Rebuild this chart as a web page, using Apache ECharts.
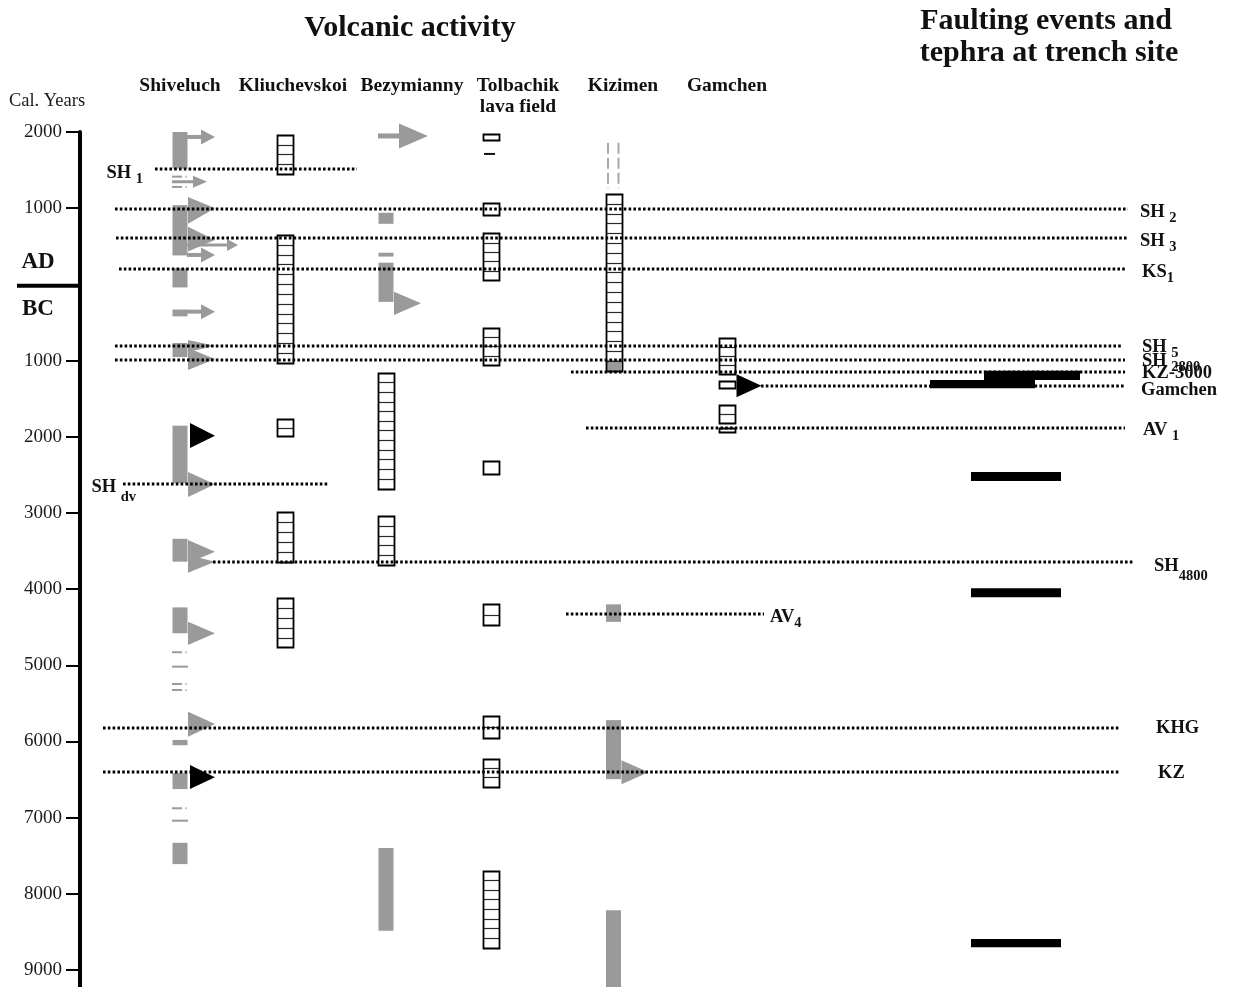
<!DOCTYPE html>
<html><head><meta charset="utf-8">
<script src="https://cdn.jsdelivr.net/npm/echarts@6/dist/echarts.min.js"></script>
<style>html,body{margin:0;padding:0;background:#fff}#c{width:1233px;height:987px}</style>
</head><body><div id="c"></div>
<script>
// Years: negative = AD, positive = BC (cal. years)
const yearTicks = [-2000,-1000,1000,2000,3000,4000,5000,6000,7000,8000,9000];
const volcanoes = ['Shiveluch','Kliuchevskoi','Bezymianny','Tolbachik\nlava field','Kizimen','Gamchen'];

// gray bars: [volcano, fromYear, toYear]
const grayBars = [
  ['Shiveluch',-2000,-1520],['Shiveluch',-1040,-380],['Shiveluch',-210,40],['Shiveluch',330,420],
  ['Shiveluch',770,955],['Shiveluch',1855,2610],['Shiveluch',3340,3640],['Shiveluch',4240,4580],
  ['Shiveluch',5980,6050],['Shiveluch',6415,6625],['Shiveluch',7330,7610],
  ['Bezymianny',-940,-795],['Bezymianny',-415,-365],['Bezymianny',-285,230],['Bezymianny',7400,8485],
  ['Kizimen',990,1135],['Kizimen',4200,4430],['Kizimen',5720,6495],['Kizimen',8215,9223]
];
// hatched boxes: [volcano, fromYear, toYear]
const hatchedBoxes = [
  ['Kliuchevskoi',-1961,-1449],['Kliuchevskoi',-648,1028],['Kliuchevskoi',1771,1999],['Kliuchevskoi',2984,3640],['Kliuchevskoi',4121,4764],
  ['Bezymianny',1159,2677],['Bezymianny',3040,3684],
  ['Tolbachik\nlava field',-1974,-1895],['Tolbachik\nlava field',-1065,-911],['Tolbachik\nlava field',-671,-58],
  ['Tolbachik\nlava field',568,1058],['Tolbachik\nlava field',2318,2493],['Tolbachik\nlava field',4199,4471],
  ['Tolbachik\nlava field',5666,5958],['Tolbachik\nlava field',6230,6594],['Tolbachik\nlava field',7696,8702],
  ['Kizimen',-1187,1133],
  ['Gamchen',708,1180],['Gamchen',1264,1351],['Gamchen',1583,1815],['Gamchen',1889,1947]
];
// short gray tephra dashes (Shiveluch): [year, short(0)/long(1)]
const grayDashes = [[-1414,0],[-1279,0],[4829,0],[5018,1],[5245,0],[5324,0],[6877,0],[7040,1]];
// Tolbachik black dash year
const blackDashes = [-1712];
// Kizimen uncertain (dashed) activity: [from, to]
const uncertain = [[-1860,-1261]];
// line arrows: [volcano, year, kind]
const lineArrows = [
  ['Shiveluch',-1935,'s'],['Shiveluch',-1347,'m'],['Shiveluch',-517,'l'],['Shiveluch',-386,'s'],['Shiveluch',358,'s'],
  ['Bezymianny',-1948,'b']
];
// flag arrowheads: [volcano, topYear, bottomYear, tipYear, black?]
const flags = [
  ['Shiveluch',-1147,-797,-1000,0],['Shiveluch',-757,-430,-583,0],['Shiveluch',729,887,805,0],['Shiveluch',835,1124,979,0],
  ['Shiveluch',1819,2147,1986,1],['Shiveluch',2462,2790,2623,0],['Shiveluch',3357,3659,3509,0],['Shiveluch',3554,3786,3640,0],
  ['Shiveluch',4428,4733,4580,0],['Shiveluch',5609,5937,5771,0],['Shiveluch',6309,6624,6470,1],
  ['Bezymianny',96,402,248,0],['Kizimen',6245,6560,6405,0],['Gamchen',1180,1482,1330,1]
];
// marker horizons: [name, subscript, year]
const horizons = [
  ['SH','1',-1519],['SH','2',-995],['SH','3',-609],['KS','1',-207],['SH','5',808],['SH','2800',987],
  ['KZ-3000','',1147],['Gamchen','',1333],['AV','1',1879],['SH','dv',2623],['SH','4800',3643],
  ['AV','4',4329],['KHG','',5829],['KZ','',6407]
];
// faulting events / tephra at trench site: [fromYear, toYear]
const trenchEvents = [[1255,1364],[1133,1255],[2463,2581],[3989,4108],[8594,8702]];

// ---------- layout (pixel-like horizontal positions, not data) ----------
const colX = {'Shiveluch':180,'Kliuchevskoi':285,'Bezymianny':386,'Tolbachik\nlava field':491,'Kizimen':613.5,'Gamchen':726.5};
const headerX = {'Shiveluch':180,'Kliuchevskoi':293,'Bezymianny':412,'Tolbachik\nlava field':518,'Kizimen':623,'Gamchen':727};
const trenchX = [[930,1035],[984,1080],[971,1061],[971,1061],[971,1061]];
const horizonX = { // [lineStart, lineEnd, labelX, labelSide, labelDy, subDrop, gap]
  'SH1':[155,357,143,'left',1,6,' '],'SH2':[115,1128,1140,'right',0,6,' '],'SH3':[116,1128,1140,'right',0,6,' '],
  'KS1':[119,1125,1142,'right',0,6,''],'SH5':[115,1122,1142,'right',-2,6,' '],'SH2800':[115,1125,1142,'right',-2,6,' '],
  'KZ-3000':[571,1125,1142,'right',1.5,0,''],'Gamchen':[761,1125,1141,'right',4,0,''],'AV1':[586,1125,1143,'right',-1,6,' '],
  'SHdv':[123,328,136,'left',-1,9,' '],'SH4800':[213,1133,1154,'right',0,9,''],'AV4':[566,764,770,'right',0,6,''],
  'KHG':[103,1120,1156,'right',0,0,''],'KZ':[103,1120,1158,'right',1,0,'']
};
// line-arrow geometry per kind: [shaftStart offset, tip offset, headLen, headHalf, shaftThick]
const arrowKinds = {s:[7,35,14,7.5,4], m:[-8,27,14,6,3], l:[7,58,11,6,3], b:[-8,42,29,12.5,5]};
const arrowKindList = ['s','m','l','b'];

const SERIF = "'Liberation Serif','Times New Roman',serif";
const GRAY = '#9a9a9a';
const INK = '#111';

function P(api, x, y){ return api.coord([x, y]); }

const option = {
  animation: false,
  backgroundColor: '#fff',
  grid: {left: 80, right: 0, top: 132, bottom: 0},
  xAxis: {type: 'value', min: 80, max: 1233, show: false},
  yAxis: {
    type: 'value', inverse: true, min: -2000, max: 9223, interval: 1000,
    axisLine: {show: true, lineStyle: {color: '#000', width: 4}},
    axisTick: {show: true, length: 14, lineStyle: {color: '#000', width: 2}, customValues: yearTicks},
    axisLabel: {show: true, margin: 18, fontFamily: SERIF, fontSize: 19, color: '#1a1a1a',
      customValues: yearTicks,
      formatter: v => (v === 0 || v > 9000) ? '' : String(Math.abs(v))},
    splitLine: {show: false}
  },
  graphic: [
    {type:'text', x:410, y:28, style:{text:'Volcanic activity', font:'bold 30px '+SERIF, fill:INK, align:'center', verticalAlign:'middle'}},
    {type:'text', x:1046, y:21, style:{text:'Faulting events and', font:'bold 30px '+SERIF, fill:INK, align:'center', verticalAlign:'middle'}},
    {type:'text', x:1049, y:53, style:{text:'tephra at trench site', font:'bold 30px '+SERIF, fill:INK, align:'center', verticalAlign:'middle'}},
    {type:'text', x:47, y:101, style:{text:'Cal. Years', font:'18.5px '+SERIF, fill:'#1a1a1a', align:'center', verticalAlign:'middle'}},
    {type:'text', x:38, y:262, style:{text:'AD', font:'bold 23px '+SERIF, fill:INK, align:'center', verticalAlign:'middle'}},
    {type:'text', x:38, y:309, style:{text:'BC', font:'bold 23px '+SERIF, fill:INK, align:'center', verticalAlign:'middle'}}
  ].concat(volcanoes.map(v => ({
    type:'text', x: headerX[v], y: 75,
    style:{text: v, font:'bold 19.5px '+SERIF, lineHeight: 21, fill: INK, align:'center', verticalAlign:'top'}
  }))),
  series: [
    { // AD/BC divider
      type:'custom', clip:false, z:3, data:[[0]],
      renderItem:(p, api) => { const a = P(api, 17, 0), b = P(api, 80, 0);
        return {type:'line', shape:{x1:a[0], y1:a[1]+1.5, x2:b[0], y2:b[1]+1.5}, style:{stroke:'#000', lineWidth:4}}; }
    },
    { // gray bars
      type:'custom', clip:false, z:2,
      data: grayBars.map(d => [colX[d[0]], d[1], d[2]]),
      renderItem:(p, api) => { const a = P(api, api.value(0), api.value(1)), b = P(api, api.value(0), api.value(2));
        return {type:'rect', shape:{x:a[0]-7.5, y:a[1], width:15, height:b[1]-a[1]}, style:{fill:GRAY}}; }
    },
    { // gray dashes
      type:'custom', clip:false, z:2,
      data: grayDashes.map(d => [colX['Shiveluch'], d[0], d[1]]),
      renderItem:(p, api) => { const a = P(api, api.value(0), api.value(1)); const long = api.value(2);
        const ch = [{type:'rect', shape:{x:a[0]-8, y:a[1]-1, width: long ? 16 : 10, height:2}, style:{fill:GRAY}}];
        if (!long) ch.push({type:'rect', shape:{x:a[0]+5, y:a[1]-1, width:2, height:2}, style:{fill:'#c8c8c8'}});
        return {type:'group', children: ch}; }
    },
    { // Kizimen uncertain dashed
      type:'custom', clip:false, z:2,
      data: uncertain.map(d => [colX['Kizimen'], d[0], d[1]]),
      renderItem:(p, api) => { const a = P(api, api.value(0), api.value(1)), b = P(api, api.value(0), api.value(2));
        const st = {stroke:'#a8a8a8', lineWidth:2, lineDash:[11,4]};
        return {type:'group', children:[
          {type:'line', shape:{x1:a[0]-5.5, y1:a[1], x2:a[0]-5.5, y2:b[1]}, style:st},
          {type:'line', shape:{x1:a[0]+5, y1:a[1], x2:a[0]+5, y2:b[1]}, style:st}]}; }
    },
    { // hatched boxes
      type:'custom', clip:false, z:4,
      data: hatchedBoxes.map(d => [colX[d[0]], d[1], d[2]]),
      renderItem:(p, api) => {
        const a = P(api, api.value(0), api.value(1)), b = P(api, api.value(0), api.value(2));
        const h = b[1]-a[1]; const n = Math.max(1, Math.round(h/9.7));
        const x0 = Math.round(a[0]-8)+0.5, w = 16;
        const ch = [];
        for (let i = 1; i < n; i++) {
          const yy = Math.round(a[1] + h*i/n) + 0.5;
          ch.push({type:'line', shape:{x1:x0, y1:yy, x2:x0+w, y2:yy}, style:{stroke:'#2a2a2a', lineWidth:1.2}});
        }
        ch.push({type:'rect', shape:{x:x0, y:Math.round(a[1])+0.5, width:w, height:Math.round(h)}, style:{fill:'none', stroke:'#000', lineWidth:1.8}});
        return {type:'group', children: ch};
      }
    },
    { // Tolbachik black dash
      type:'custom', clip:false, z:4,
      data: blackDashes.map(y => [colX['Tolbachik\nlava field'], y]),
      renderItem:(p, api) => { const a = P(api, api.value(0), api.value(1));
        return {type:'rect', shape:{x:a[0]-7, y:a[1]-1, width:11, height:2}, style:{fill:'#111'}}; }
    },
    { // line arrows
      type:'custom', clip:false, z:5,
      data: lineArrows.map(d => [colX[d[0]], d[1], arrowKindList.indexOf(d[2])]),
      renderItem:(p, api) => {
        const spec = arrowKinds[arrowKindList[api.value(2)]]; const a = P(api, api.value(0), api.value(1));
        const xs = a[0]+spec[0], xt = a[0]+spec[1], hx = xt-spec[2];
        return {type:'group', children:[
          {type:'rect', shape:{x:xs, y:a[1]-spec[4]/2, width:hx-xs+1, height:spec[4]}, style:{fill:GRAY}},
          {type:'polygon', shape:{points:[[hx,a[1]-spec[3]],[xt,a[1]],[hx,a[1]+spec[3]]]}, style:{fill:GRAY}}]};
      }
    },
    { // flag arrowheads
      type:'custom', clip:false, z:6,
      data: flags.map(d => [colX[d[0]], d[1], d[2], d[3], d[4]]),
      renderItem:(p, api) => {
        const x = api.value(0); const t = P(api, x, api.value(1)), b = P(api, x, api.value(2)), m = P(api, x, api.value(3));
        const black = api.value(4);
        const xl = t[0] + (black ? 10 : 8), xt = t[0] + 35;
        return {type:'polygon', shape:{points:[[xl,t[1]],[xt,m[1]],[xl,b[1]]]},
          style:{fill: black ? '#000' : GRAY}};
      }
    },
    { // trench bars
      type:'custom', clip:false, z:5,
      data: trenchEvents.map((d, i) => [trenchX[i][0], trenchX[i][1], d[0], d[1]]),
      renderItem:(p, api) => { const a = P(api, api.value(0), api.value(2)), b = P(api, api.value(1), api.value(3));
        return {type:'rect', shape:{x:a[0], y:a[1], width:b[0]-a[0], height:b[1]-a[1]}, style:{fill:'#000'}}; }
    },
    { // marker horizons (dotted lines + labels)
      type:'custom', clip:false, z:7,
      data: horizons.map((d, i) => [i, d[2]]),
      renderItem:(p, api) => {
        const h = horizons[api.value(0)]; const key = h[0] + h[1]; const L = horizonX[key];
        const a = P(api, L[0], api.value(1)), b = P(api, L[1], api.value(1)), lp = P(api, L[2], api.value(1));
        const yy = Math.round(a[1]);
        const drop = L[5]; const LH = 2*(drop + 8);
        const text = h[1] ? '{m|' + h[0] + L[6] + '}{s|' + h[1] + '}' : '{m|' + h[0] + '}';
        return {type:'group', children:[
          {type:'line', shape:{x1:a[0], y1:yy, x2:b[0], y2:yy}, style:{stroke:'#000', lineWidth:3, lineDash:[2.6,2.2]}},
          {type:'text', x: lp[0], y: yy + L[4] + (h[1] ? drop/2 : 0),
            style:{text: text, align: L[3] === 'left' ? 'right' : 'left', verticalAlign:'middle', fill: INK,
              rich:{
                m:{fontFamily:SERIF, fontWeight:'bold', fontSize:18.5, lineHeight: h[1] ? Math.max(20, LH) : 20, verticalAlign:'middle', fill:INK},
                s:{fontFamily:SERIF, fontWeight:'bold', fontSize:14.5, lineHeight:16, verticalAlign:'bottom', fill:INK}
              }}}
        ]};
      }
    }
  ]
};
const chart = echarts.init(document.getElementById('c'), null, {renderer:'canvas'});
chart.setOption(option);
</script>
</body></html>
